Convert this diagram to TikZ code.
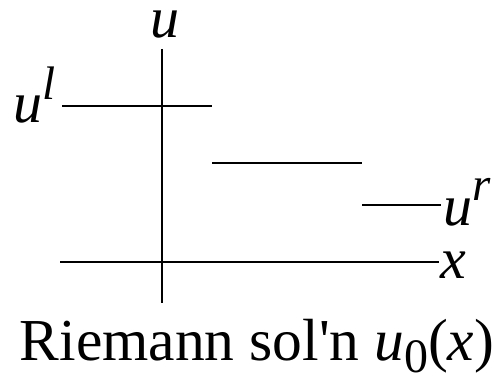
\documentclass[tikz,border=0pt]{standalone}
\usepackage{fontspec}
\setmainfont{Liberation Serif}
\newcommand{\smallfs}{\fontsize{47}{49}\selectfont}
\begin{document}
\begin{tikzpicture}[x=1pt,y=1pt,
  lbl/.style={inner sep=0pt,font=\fontsize{58}{60}\selectfont},
  ln/.style={line width=2.8pt}]
\useasboundingbox (0,0) rectangle (500,-374);
% axes
\coordinate (vt) at (162,-49);
\coordinate (vb) at (162,-303);
\coordinate (hl) at (60,-262);
\coordinate (hr) at (439,-262);
\draw[ln] (vt) -- (vb);
\draw[ln] (hl) -- (hr);
% steps
\coordinate (a1) at (62,-106);
\coordinate (a2) at (212,-106);
\coordinate (b1) at (212,-163);
\coordinate (b2) at (362,-163);
\coordinate (c1) at (362,-205);
\coordinate (c2) at (441,-205);
\draw[ln] (a1) -- (a2);
\draw[ln] (b1) -- (b2);
\draw[ln] (c1) -- (c2);
% labels
\node[lbl,anchor=base] (u) at (165,-38) {\textit{u}};
\node[lbl,anchor=base west] (ul) at (13,-123) {\textit{u}\raisebox{23pt}{\smallfs\textit{l}}};
\node[lbl,anchor=base west] (ur) at (443,-225) {\textit{u}\raisebox{25pt}{\smallfs\textit{r}}};
\node[lbl,anchor=base west] (x) at (440,-278) {\textit{x}};
\node[lbl,anchor=base,font=\fontsize{59.5}{61}\selectfont] (cap) at (257,-360) {Riemann sol\textquotesingle n \textit{u}\raisebox{-12pt}{\fontsize{48}{50}\selectfont 0}(\textit{x})};
\end{tikzpicture}
\end{document}
